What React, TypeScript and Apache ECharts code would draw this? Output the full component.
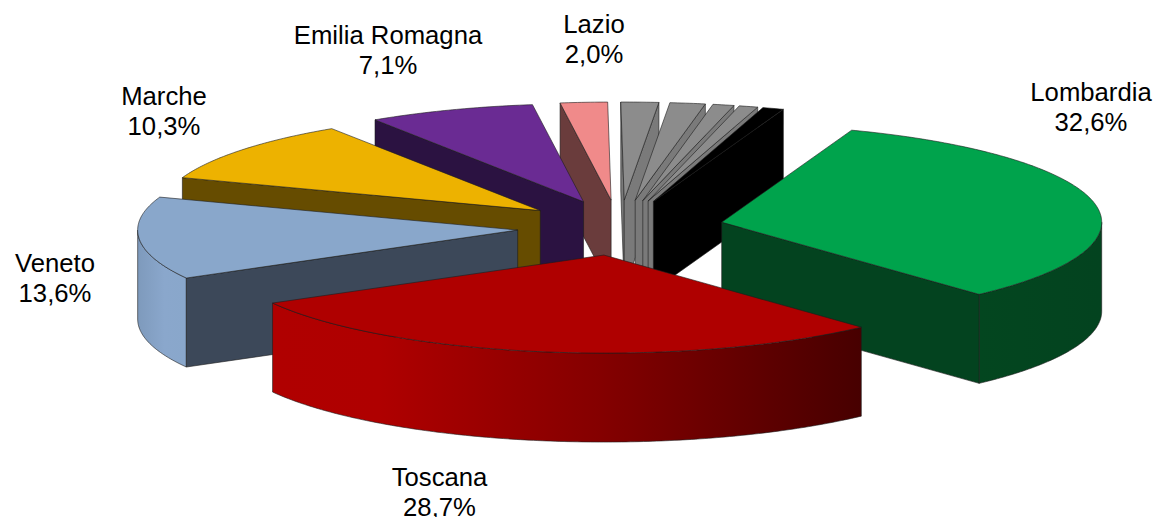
import React, { useEffect, useRef } from "react";
import * as echarts from "echarts";

// Data, in chart order (clockwise from the start angle)
const categories = ["Lombardia", "Toscana", "Veneto", "Marche", "Emilia Romagna", "Lazio", "", "", "", "", ""];
const shares = [32.6, 28.7, 13.6, 10.3, 7.1, 2.0, 1.6, 1.5, 0.9, 0.8, 0.9];
// Back-to-front painting order, as indexes into categories
const paintOrder = [6, 7, 8, 9, 10, 5, 4, 3, 2, 0, 1];

// Styles
const topColors = ["#00A34C", "#AF0000", "#89A7CB", "#EDB200", "#6A2B93", "#F08A8A", "#8C8C8C", "#8C8C8C", "#8C8C8C", "#8C8C8C", "#000000"];
const sideColors = ["#03431F", "#AF0000", "#3C4859", "#664C00", "#2B1241", "#6A3C3C", "#7A7A7A", "#7A7A7A", "#7A7A7A", "#7A7A7A", "#000000"];
const wallStops: Record<number, [number, string][]> = {
  0: [[0, "#03461F"], [1, "#03431F"]],
  1: [[0, "#B00000"], [0.18, "#AF0000"], [0.55, "#850000"], [1, "#470000"]],
  2: [[0, "#7E9ABC"], [0.55, "#8AA7CC"], [1, "#89A7CB"]],
};

// Layout of the projected pie
const START_ANGLE = 20;
const CX = 621;
const CY = 227.7;
const RX = 380;
const RY = 98;
const EXPLODE_X = 102.7;
const EXPLODE_Y = 27.7;
const DEPTH = 89;
const sliceNudgeX = [0, -1, -1, 0, -1.5, -2.5, -1, 0, 0, 0, 0];
const labelCentres: Record<string, [number, number]> = {
  Lombardia: [1091, 106.5],
  Toscana: [439.5, 491.5],
  Veneto: [55, 277.5],
  Marche: [164, 110.5],
  "Emilia Romagna": [388, 50],
  Lazio: [594, 39],
};

const rad = (d: number) => (d * Math.PI) / 180;

function buildRows() {
  const total = shares.reduce((a, b) => a + b, 0);
  const starts: number[] = [];
  let acc = START_ANGLE;
  shares.forEach((v) => {
    starts.push(acc);
    acc += (v / total) * 360;
  });
  return paintOrder.map((i) => [starts[i], starts[i] + (shares[i] / total) * 360, i]);
}

function arcPoints(ax: number, ay: number, from: number, to: number): number[][] {
  const pts: number[][] = [];
  const steps = Math.max(2, Math.ceil((to - from) * 1.5));
  for (let k = 0; k <= steps; k++) {
    const t = rad(from + ((to - from) * k) / steps);
    pts.push([ax + RX * Math.sin(t), ay - RY * Math.cos(t)]);
  }
  return pts;
}

const edge = { stroke: "#1c1c1c", lineWidth: 0.6, lineJoin: "round" as const };

function renderSlice(_params: any, api: any) {
  const a0 = api.value(0) as number;
  const a1 = api.value(1) as number;
  const i = api.value(2) as number;
  const mid = rad((a0 + a1) / 2);
  const ax = CX + EXPLODE_X * Math.sin(mid) + sliceNudgeX[i];
  const ay = CY - EXPLODE_Y * Math.cos(mid);
  const children: any[] = [];

  const down = (p: number[]) => [p[0], p[1] + DEPTH];
  const polygon = (points: number[][], fill: any) => ({
    type: "polygon",
    shape: { points },
    style: { fill, ...edge },
  });

  // Outer wall: the part of the rim that faces the viewer
  const w0 = Math.max(a0, 90);
  const w1 = Math.min(a1, 270);
  if (w1 > w0) {
    const rim = arcPoints(ax, ay, w0, w1);
    const stops = wallStops[i];
    const fill = stops
      ? new echarts.graphic.LinearGradient(0, 0, 1, 0, stops.map(([offset, color]) => ({ offset, color })))
      : sideColors[i];
    children.push(polygon([...rim, ...rim.slice().reverse().map(down)], fill));
  }

  // Radial faces that look towards the viewer
  const face = (angle: number) => {
    const [p] = arcPoints(ax, ay, angle, angle + 1);
    return polygon([[ax, ay], p, down(p), [ax, ay + DEPTH]], sideColors[i]);
  };
  if (Math.sin(rad(a0)) < 0) children.push(face(a0));
  if (Math.sin(rad(a1)) > 0) children.push(face(a1));

  // Top surface
  children.push(polygon([[ax, ay], ...arcPoints(ax, ay, a0, a1)], topColors[i]));

  // Label
  const name = categories[i];
  if (name) {
    const [lx, ly] = labelCentres[name];
    children.push({
      type: "text",
      x: lx,
      y: ly,
      style: {
        text: `${name}\n${shares[i].toFixed(1).replace(".", ",")}%`,
        fill: "#000000",
        font: '25.7px "Liberation Sans", Arial, sans-serif',
        align: "center",
        verticalAlign: "middle",
        lineHeight: 30,
      },
      z2: 100,
    });
  }
  return { type: "group", children };
}

export default function App() {
  const ref = useRef<HTMLDivElement>(null);
  useEffect(() => {
    document.body.style.margin = "0";
    const chart = echarts.init(ref.current!, null, { renderer: "svg" });
    chart.setOption({
      animation: false,
      backgroundColor: "#ffffff",
      series: [
        {
          type: "custom",
          coordinateSystem: "none",
          silent: true,
          renderItem: renderSlice,
          data: buildRows(),
        },
      ],
    });
    return () => chart.dispose();
  }, []);
  return <div ref={ref} style={{ position: "absolute", left: 0, top: 0, width: 1154, height: 517 }} />;
}
